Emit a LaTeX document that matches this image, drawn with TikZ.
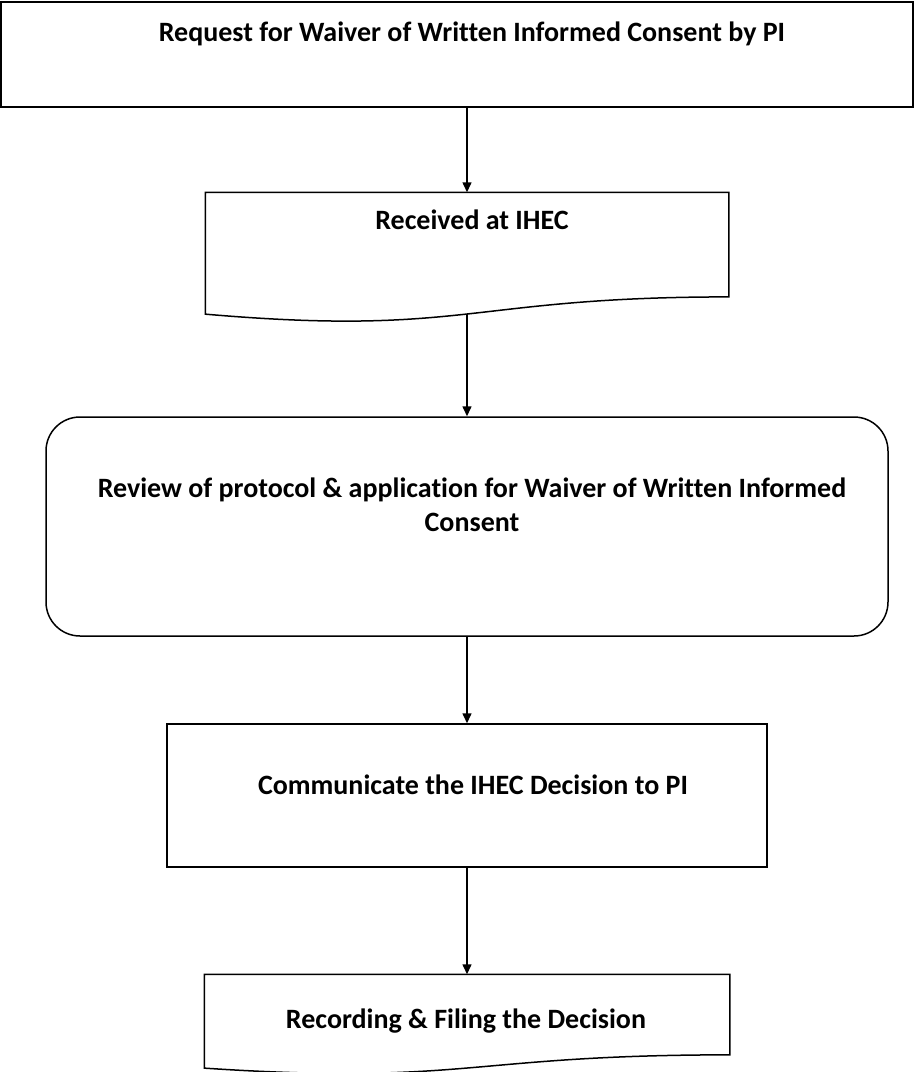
\documentclass[tikz,border=0pt]{standalone}
\usepackage{fontspec}
\setmainfont{Carlito}[Ligatures=NoCommon]
\usetikzlibrary{arrows.meta,calc}

% Outline of a flowchart "document" shape over the area of node #1,
% with a wavy bottom edge; also defines the coordinate #1-foot.
\newcommand\docoutline[1]{%
  \draw (#1.north west) -- (#1.north east)
    -- ($(#1.north east)!0.802!(#1.south east)$)
    .. controls ($(#1.north)!0.802!(#1.south)$) and ($(#1.north)!1.1075!(#1.south)$)
    .. ($(#1.north west)!0.934!(#1.south west)$) -- cycle;
  \coordinate (#1-foot) at ($(#1.north)!0.933!(#1.south)$);}

\begin{document}
\begin{tikzpicture}[x=1pt,y=-1pt,line width=1.5pt,
  box/.style={draw,rectangle,inner sep=0pt},
  docarea/.style={rectangle,inner sep=0pt},
  lbl/.style={font=\bfseries\fontsize{28}{34}\selectfont,inner sep=0pt,anchor=base},
  flow/.style={-{Triangle[length=10pt,width=9pt]}}]
\useasboundingbox (0,0) rectangle (914,1072);

% boxes
\node[box,minimum width=912pt,minimum height=105pt] (req) at (457,54.5) {};
\node[docarea,minimum width=522pt,minimum height=129pt] (recv) at (467,257.5) {};
\docoutline{recv}
\node[box,rounded corners=34pt,minimum width=842pt,minimum height=219pt] (rev) at (467,526.5) {};
\node[box,minimum width=600pt,minimum height=143pt] (comm) at (467,795.5) {};
\node[docarea,minimum width=524pt,minimum height=99pt] (rec) at (467,1024.5) {};
\docoutline{rec}

% labels
\node[lbl] (reqt) at (472,41) {Request for Waiver of Written Informed Consent by PI};
\node[lbl] (recvt) at (472,229) {Received at IHEC};
\node[lbl] (revt1) at (472,497) {Review of protocol \& application for Waiver of Written Informed};
\node[lbl] (revt2) at (472,531) {Consent};
\node[lbl] (commt) at (473,794) {Communicate the IHEC Decision to PI};
\node[lbl] (rect) at (466,1028) {Recording \& Filing the Decision};

% connectors
\draw[flow] (req.south -| recv.north) -- (recv.north);
\draw[flow] (recv-foot) -- (rev.north);
\draw[flow] (rev.south) -- (comm.north);
\draw[flow] (comm.south) -- (rec.north);
\end{tikzpicture}
\end{document}
